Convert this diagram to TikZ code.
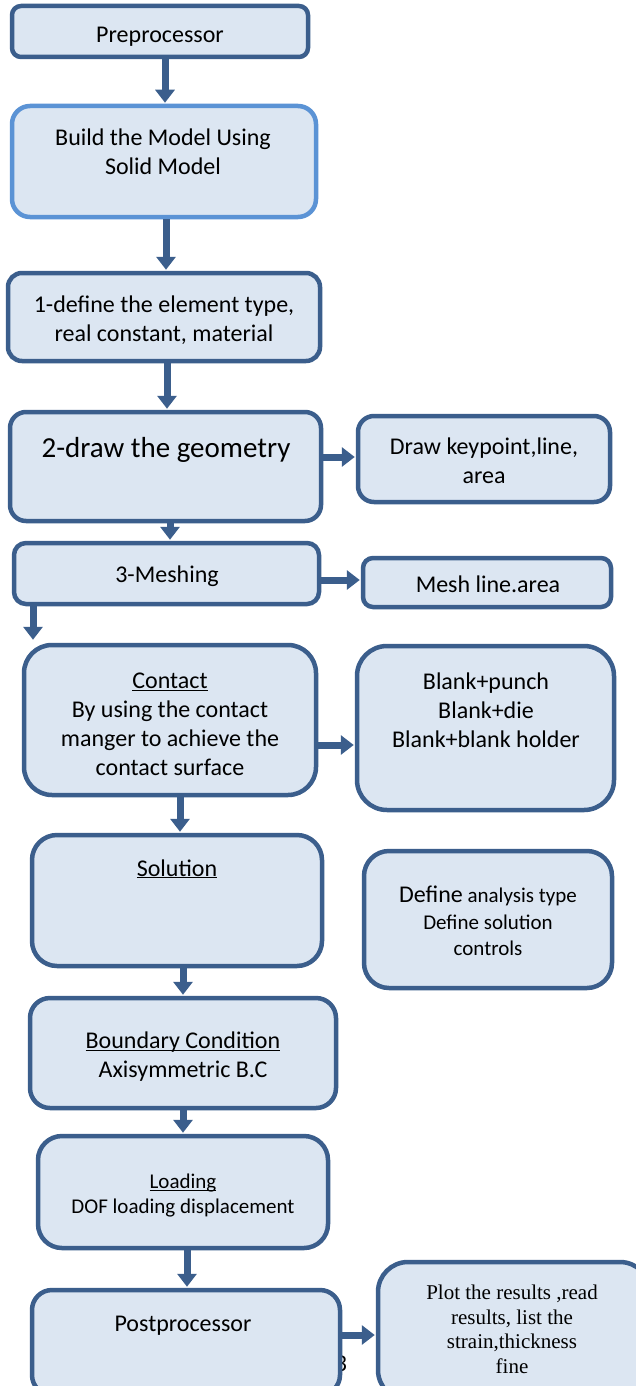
\documentclass[tikz,border=0pt]{standalone}
\usepackage{fontspec}
\setmainfont{Carlito}
\newfontfamily\tnr{Liberation Serif}
\usetikzlibrary{arrows.meta}
\definecolor{bd}{RGB}{59,94,140}
\definecolor{bdl}{RGB}{91,147,213}
\definecolor{bf}{RGB}{220,230,242}
\newcommand{\ulx}[1]{\underline{\smash{#1}}}
\begin{document}
\begin{tikzpicture}[x=1pt,y=-1pt,
  box/.style={draw=bd, fill=bf, line width=4.5pt, rounded corners=#1, inner sep=0pt},
  box/.default=15pt,
  txt/.style={align=center, inner sep=0pt, font=\fontsize{24}{29}\selectfont},
  txs/.style={align=center, inner sep=0pt, font=\fontsize{21}{25}\selectfont},
  arr/.style={draw=bd, line width=7pt, -{Triangle[width=19pt,length=13pt]}, shorten >=1pt}]
\useasboundingbox (0,0) rectangle (635,1386);
\fill[white] (0,0) rectangle (635,1386);
% stray page number
\node[txt] (pg) at (341,1364) {3};
% boxes
\node[box=9pt, minimum width=296pt, minimum height=51pt] (pre) at (160,31.5) {};
\node[box=18pt, draw=bdl, minimum width=304pt, minimum height=111pt] (build) at (164,161.5) {};
\node[box=14pt, minimum width=312pt, minimum height=88pt] (def) at (164,317) {};
\node[box=16pt, minimum width=311pt, minimum height=109pt] (geo) at (165.5,466.5) {};
\node[box=16pt, minimum width=252pt, minimum height=86pt] (kp) at (484,459) {};
\node[box=12pt, minimum width=305pt, minimum height=61pt] (mesh) at (166.5,573.5) {};
\node[box=10pt, minimum width=248pt, minimum height=49pt] (ml) at (487,582.5) {};
\node[box=28pt, minimum width=292pt, minimum height=150pt] (cont) at (170,720) {};
\node[box=30pt, minimum width=257pt, minimum height=164pt] (blank) at (485.5,728) {};
\node[box=25pt, minimum width=290pt, minimum height=131pt] (sol) at (177,900.5) {};
\node[box=25pt, minimum width=248pt, minimum height=137pt] (def2) at (488,919.5) {};
\node[box=20pt, minimum width=306pt, minimum height=110pt] (bc) at (183,1053) {};
\node[box=24pt, minimum width=290pt, minimum height=112pt] (load) at (183,1192) {};
\node[box=20pt, minimum width=308pt, minimum height=105pt] (post) at (186,1342.5) {};
\node[box=30pt, minimum width=272pt, minimum height=138pt] (plot) at (514,1331) {};
% texts
\node[txt] (preT) at (160,37) {Preprocessor};
\node[txt] (buildT) at (163,152) {Build the Model Using\\Solid Model};
\node[txt] (defT) at (164,320) {1-define the element type,\\real constant, material};
\node[txt, font=\fontsize{29}{34}\selectfont] (geoT) at (166,450) {2-draw the geometry};
\node[txt] (kpT) at (484,461) {Draw keypoint,line,\\area};
\node[txt] (meshT) at (167,576) {3-Meshing};
\node[txt] (mlT) at (488,584) {Mesh line.area};
\node[txt] (contT) at (170,732) {\ulx{Contact}\\By using the contact\\manger to achieve the\\contact surface};
\node[txt] (blankT) at (486,710) {Blank+punch\\Blank+die\\Blank+blank holder};
\node[txt] (solT) at (177,877) {\ulx{Solution}};
\node[txs, font=\fontsize{21}{26.5}\selectfont] (def2T) at (488,921) {{\fontsize{24}{26.5}\selectfont Define} analysis type\\Define solution\\controls};
\node[txt] (bcT) at (183,1065) {\ulx{Boundary Condition}\\Axisymmetric B.C};
\node[txs] (loadT) at (183,1203) {\ulx{Loading}\\DOF loading displacement};
\node[txt] (postT) at (183,1326) {Postprocessor};
\node[txs, font=\tnr\fontsize{21}{24.5}\selectfont] (plotT) at (512,1329.5) {Plot the results ,read\\results, list the\\strain,thickness\\fine};
% arrow guide coordinates
\coordinate (x1) at (165,0);
\coordinate (x2) at (166,0);
\coordinate (x3) at (167,0);
\coordinate (x5) at (170,0);
\coordinate (x7) at (33,0);
\coordinate (x9) at (180,0);
\coordinate (x10) at (183,0);
\coordinate (x12) at (187,0);
\coordinate (y4) at (0,457);
\coordinate (y6) at (0,580);
\coordinate (y8) at (0,745);
\coordinate (y13) at (0,1335);
% arrows
\draw[arr] (pre.south -| x1) -- (build.north -| x1);
\draw[arr] (build.south -| x2) -- (def.north -| x2);
\draw[arr] (def.south -| x3) -- (geo.north -| x3);
\draw[arr] (geo.east |- y4) -- (kp.west |- y4);
\draw[arr] (geo.south -| x5) -- (mesh.north -| x5);
\draw[arr] (mesh.east |- y6) -- (ml.west |- y6);
\draw[arr, shorten >=3pt] (mesh.south -| x7) -- (cont.north -| x7);
\draw[arr] (cont.east |- y8) -- (blank.west |- y8);
\draw[arr] (cont.south -| x9) -- (sol.north -| x9);
\draw[arr] (sol.south -| x10) -- (bc.north -| x10);
\draw[arr] (bc.south -| x10) -- (load.north -| x10);
\draw[arr] (load.south -| x12) -- (post.north -| x12);
\draw[arr] (post.east |- y13) -- (plot.west |- y13);
\end{tikzpicture}
\end{document}
